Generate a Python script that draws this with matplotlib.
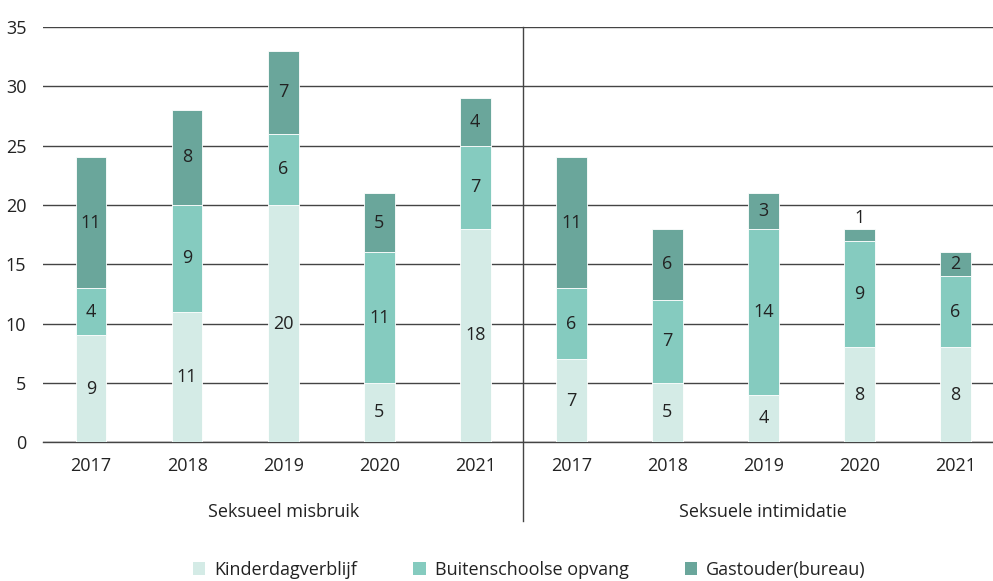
import matplotlib
matplotlib.use("Agg")
import matplotlib.pyplot as plt
from matplotlib.patches import Patch

years = ["2017", "2018", "2019", "2020", "2021"]
groups = ["Seksueel misbruik", "Seksuele intimidatie"]
series_names = ["Kinderdagverblijf", "Buitenschoolse opvang", "Gastouder(bureau)"]
kdv = [9, 11, 20, 5, 18, 7, 5, 4, 8, 8]
bso = [4, 9, 6, 11, 7, 6, 7, 14, 9, 6]
gast = [11, 8, 7, 5, 4, 11, 6, 3, 1, 2]
colors = ["#d4ebe6", "#85cbbf", "#6aa69b"]

plt.rcParams['font.family'] = ['Open Sans', 'DejaVu Sans']
FS = 13
fig = plt.figure(figsize=(9.93, 5.81), dpi=100)
ax = fig.add_axes([43/993, 0.239, 1 - 43/993, 0.9535 - 0.239])

x = list(range(10))
w = 0.32
bottoms = [0]*10
for vals, col in zip([kdv, bso, gast], colors):
    ax.bar(x, vals, w, bottom=bottoms, color=col, edgecolor="white", linewidth=0.6, zorder=3)
    for xi, v, b in zip(x, vals, bottoms):
        if v >= 2:
            ax.text(xi, b + v/2, str(v), ha="center", va="center", fontsize=FS, color="#222222", zorder=4)
        else:
            ax.text(xi, b + v + 0.15, str(v), ha="center", va="bottom", fontsize=FS, color="#222222", zorder=4)
    bottoms = [b + v for b, v in zip(bottoms, vals)]

ax.set_xlim(-0.5, 9.39)
ax.set_ylim(0, 35)
ax.set_yticks(range(0, 36, 5))
ax.yaxis.grid(True, color="#444444", linewidth=1.0, zorder=1)
ax.set_axisbelow(True)
for s in ["top", "right", "left"]:
    ax.spines[s].set_visible(False)
ax.spines["bottom"].set_color("#444444")
ax.spines["bottom"].set_linewidth(1.0)
ax.tick_params(axis="both", length=0, labelsize=FS, colors="#222222")
ax.tick_params(axis="y", pad=12)
ax.tick_params(axis="x", pad=11)
ax.set_xticks(x)
ax.set_xticklabels(years * 2)

ax.plot([4.5, 4.5], [35, -6.66], color="#444444", linewidth=1.0, clip_on=False, zorder=5)
ax.text(2, -5.9, groups[0], ha="center", va="center", fontsize=FS, color="#222222")
ax.text(7, -5.9, groups[1], ha="center", va="center", fontsize=FS, color="#222222")

handles = [Patch(facecolor=c, edgecolor="none") for c in colors]
fig.legend(handles, series_names, loc="center", bbox_to_anchor=(0.533, 0.019), ncol=3, frameon=False,
           fontsize=FS, handlelength=0.7, handleheight=0.7, handletextpad=0.5, columnspacing=3.1,
           labelcolor="#222222", borderpad=0)

fig.savefig("out.png", dpi=100)
